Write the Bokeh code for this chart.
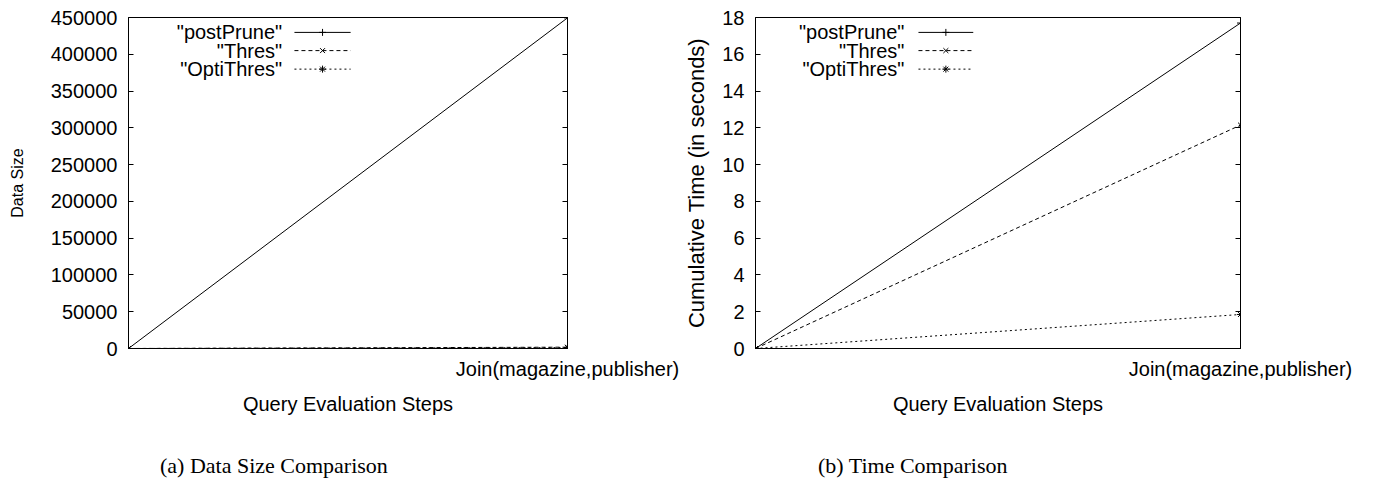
from bokeh.plotting import figure
from bokeh.models import Range1d, FixedTicker, LinearAxis, Label, BasicTickFormatter, Div
from bokeh.layouts import row, column
from bokeh.embed import file_html
from bokeh.resources import INLINE

# ---------------- data ----------------
steps = ["", "Join(magazine,publisher)"]
step_pos = [0, 1]
series_names = ['"postPrune"', '"Thres"', '"OptiThres"']

size_postprune = [0, 449500]
size_thres = [0, 1800]
size_optithres = [0, 1200]

time_postprune = [0, 17.7]
time_thres = [0, 12.15]
time_optithres = [0, 1.85]

size_ticks = [0, 50000, 100000, 150000, 200000, 250000, 300000, 350000, 400000, 450000]
time_ticks = [0, 2, 4, 6, 8, 10, 12, 14, 16, 18]

captions = ["(a) Data Size Comparison", "(b) Time Comparison"]

SANS = "Liberation Sans"
SERIF = "Liberation Serif"
styles = [
    dict(line_dash="solid", marker="cross"),
    dict(line_dash="4 3", marker="x"),
    dict(line_dash="2 3", marker="asterisk"),
]


def make_fig(width, left, right, ymax, yticks, ylabel, ylabel_size, ylabel_standoff,
             series, legend_fx, legend_line_fx):
    p = figure(width=width, height=420, output_backend="svg", toolbar_location=None,
               x_range=Range1d(0, 1), y_range=Range1d(0, ymax),
               min_border_left=left, min_border_right=right,
               min_border_top=17, min_border_bottom=72)
    p.grid.visible = False
    p.outline_line_color = "black"
    p.outline_line_width = 1
    p.background_fill_color = "white"
    p.border_fill_color = "white"

    xa = p.xaxis[0]
    xa.ticker = FixedTicker(ticks=[1])
    xa.major_label_overrides = {1: steps[1]}
    xa.axis_label = "Query Evaluation Steps"
    ya = p.yaxis[0]
    ya.ticker = FixedTicker(ticks=yticks)
    ya.formatter = BasicTickFormatter(use_scientific=False)
    ya.axis_label = ylabel
    for ax in (xa, ya):
        ax.axis_line_color = "black"
        ax.major_tick_line_color = "black"
        ax.major_tick_in = 5
        ax.major_tick_out = 0
        ax.minor_tick_line_color = None
        ax.major_label_text_font = SANS
        ax.major_label_text_font_size = "20px"
        ax.major_label_text_color = "black"
        ax.axis_label_text_font = SANS
        ax.axis_label_text_font_style = "normal"
        ax.axis_label_text_color = "black"
    xa.axis_label_text_font_size = "20px"
    xa.major_label_standoff = 9
    xa.axis_label_standoff = 10
    ya.axis_label_text_font_size = ylabel_size
    ya.major_label_standoff = 11
    ya.axis_label_standoff = ylabel_standoff

    ra = LinearAxis(ticker=FixedTicker(ticks=yticks), major_tick_in=5, major_tick_out=0,
                    major_label_overrides={t: "" for t in yticks}, major_label_standoff=0,
                    minor_tick_line_color=None, axis_line_color="black",
                    major_tick_line_color="black")
    p.add_layout(ra, "right")

    # data lines
    for vals, st in zip(series, styles):
        p.line(step_pos, vals, line_color="black", line_width=1, line_dash=st["line_dash"])
        p.scatter(step_pos, vals, marker=st["marker"], size=7, line_color="black",
                  line_width=1)

    # gnuplot-style legend (text then sample)
    row_fy = [0.045, 0.10, 0.156]
    for name, st, fy in zip(series_names, styles, row_fy):
        yy = (1 - fy) * ymax
        p.add_layout(Label(x=legend_fx, y=yy, text=name, text_align="right",
                           text_baseline="middle", text_font=SANS,
                           text_font_size="20px", text_color="black"))
        p.segment(x0=[legend_line_fx[0]], y0=[yy], x1=[legend_line_fx[1]], y1=[yy],
                  line_color="black", line_width=1, line_dash=st["line_dash"])
        p.scatter([(legend_line_fx[0] + legend_line_fx[1]) / 2], [yy], marker=st["marker"],
                  size=7, line_color="black", line_width=1)
    return p


def caption_div(text, width, pad_left):
    html = ('<div style="font-family: \'Liberation Serif\', serif; font-size: 22px; '
            'line-height: 26px; color: black; white-space: nowrap; '
            'padding-top: 33px; padding-left: %dpx;">%s</div>' % (pad_left, text))
    return Div(text=html, width=width, height=60, margin=0)


p1 = make_fig(681, 128, 114, 450000, size_ticks, "Data Size", "16px", 22,
              [size_postprune, size_thres, size_optithres],
              0.350, (0.378, 0.506))
p2 = make_fig(674, 71, 115, 18, time_ticks, "Cumulative Time (in seconds)", "22px", 10,
              [time_postprune, time_thres, time_optithres],
              0.307, (0.336, 0.449))

d1 = caption_div(captions[0], 681, 160)
d2 = caption_div(captions[1], 674, 137)

layout = column(row(p1, p2, spacing=0), row(d1, d2, spacing=0), spacing=0)
open("out.html", "w").write(file_html(layout, INLINE))
